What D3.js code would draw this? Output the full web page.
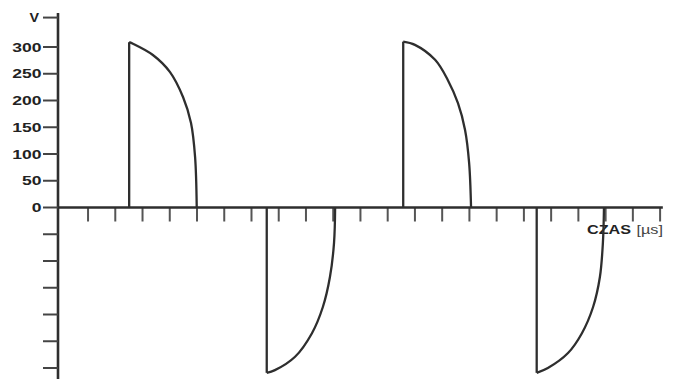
<!DOCTYPE html>
<html>
<head>
<meta charset="utf-8">
<script src="https://cdn.jsdelivr.net/npm/d3@7/dist/d3.min.js"></script>
<style>
  html, body { margin: 0; padding: 0; background: #fff; }
  svg { display: block; }
  text { font-family: "Liberation Sans", Arial, sans-serif; }
</style>
</head>
<body>
<svg id="chart" width="682" height="379"></svg>
<script>
// ---- data ----
const yTickValues = [-300, -250, -200, -150, -100, -50, 0, 50, 100, 150, 200, 250, 300];
const yLabelValues = [0, 50, 100, 150, 200, 250, 300];
const yUnitValue = 355;           // position of the "V" unit tick
const yUnitLabel = "V";
const xTickValues = [1,2,3,4,5,6,7,8,9,10,11,12,13,14,15,16,17,18,19,20,21,22];
const xAxisLabel = "CZAS";
const xAxisUnit = "[\u00b5s]";

// pulses: time [µs] and voltage [V]
const pulse1T = [2.51, 2.65, 3.38, 4.01, 4.49, 4.78, 4.93, 4.99];
const pulse1V = [309, 306, 285, 253, 206, 158, 94, 0];
const pulse2T = [7.56, 7.86, 8.60, 9.22, 9.62, 9.88, 10.03, 10.07];
const pulse2V = [-309, -304, -279, -235, -186, -130, -66, 0];
const pulse3T = [12.57, 13.0, 13.74, 14.21, 14.58, 14.84, 14.99, 15.06];
const pulse3V = [310, 304, 276, 238, 195, 145, 83, 0];
const pulse4T = [17.47, 17.88, 18.62, 19.13, 19.54, 19.79, 19.90, 19.94];
const pulse4V = [-309, -300, -272, -235, -186, -130, -66, 0];

// ---- drawing ----
const svg = d3.select("#chart");
const x = d3.scaleLinear().domain([0, 22]).range([60.8, 660.1]);
const y = d3.scaleLinear().domain([-300, 300]).range([368, 47]);
const axisX = 58;
const axisColor = "#2e2e2e";
const textScale = 1.35;

// Y axis line
svg.append("line")
  .attr("x1", axisX).attr("x2", axisX)
  .attr("y1", 13).attr("y2", 379)
  .attr("stroke", axisColor).attr("stroke-width", 2.6);

// Y ticks (left side)
const yt = svg.append("g");
yt.selectAll("line").data(yTickValues.concat([yUnitValue])).join("line")
  .attr("x1", 43).attr("x2", axisX)
  .attr("y1", d => y(d)).attr("y2", d => y(d))
  .attr("stroke", "#444").attr("stroke-width", 2);

// Y labels
yt.selectAll("text.lab").data(yLabelValues).join("text")
  .attr("class", "lab")
  .attr("transform", d => `translate(41.5,${y(d)}) scale(${textScale},1)`)
  .attr("text-anchor", "end")
  .attr("dy", "0.36em")
  .attr("font-size", 13)
  .attr("font-weight", "bold")
  .attr("fill", "#222")
  .text(d => d);

yt.append("text")
  .attr("transform", `translate(39,${y(yUnitValue)}) scale(1.1,1)`)
  .attr("text-anchor", "end")
  .attr("dy", "0.36em")
  .attr("font-size", 13)
  .attr("font-weight", "bold")
  .attr("fill", "#222")
  .text(yUnitLabel);

// X ticks (below axis)
svg.append("g").selectAll("line").data(xTickValues).join("line")
  .attr("x1", d => x(d)).attr("x2", d => x(d))
  .attr("y1", y(0)).attr("y2", y(0) + 14)
  .attr("stroke", "#555").attr("stroke-width", 2);

// X axis line
svg.append("line")
  .attr("x1", axisX).attr("x2", x(22.1))
  .attr("y1", y(0)).attr("y2", y(0))
  .attr("stroke", axisColor).attr("stroke-width", 2.6);

// X axis label
const xl = svg.append("g").attr("transform", `translate(587,234) scale(${textScale},1)`);
xl.append("text")
  .attr("font-size", 12).attr("font-weight", "bold").attr("fill", "#222")
  .text(xAxisLabel)
  .append("tspan")
  .attr("dx", 4)
  .attr("font-weight", "normal").attr("fill", "#444")
  .text(xAxisUnit);

// Pulses
const pulses = [[pulse1T, pulse1V], [pulse2T, pulse2V], [pulse3T, pulse3V], [pulse4T, pulse4V]];
const curveLine = d3.line().x(d => x(d[0])).y(d => y(d[1])).curve(d3.curveCatmullRom.alpha(0.5));
const g = svg.append("g");
pulses.forEach(([T, V]) => {
  const pts = T.map((t, i) => [t, V[i]]);
  // vertical edge
  g.append("line")
    .attr("x1", x(T[0])).attr("x2", x(T[0]))
    .attr("y1", y(0)).attr("y2", y(V[0]))
    .attr("stroke", axisColor).attr("stroke-width", 2.3);
  // decaying curve
  g.append("path")
    .attr("d", curveLine(pts))
    .attr("fill", "none")
    .attr("stroke", axisColor).attr("stroke-width", 2.3)
    .attr("stroke-linejoin", "round");
});
</script>
</body>
</html>
